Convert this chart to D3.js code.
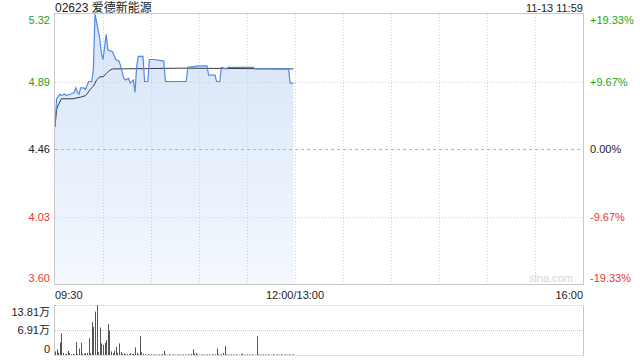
<!DOCTYPE html>
<html lang="zh">
<head>
<meta charset="utf-8">
<title>02623 爱德新能源</title>
<script src="https://cdn.jsdelivr.net/npm/d3@7/dist/d3.min.js"></script>
<style>
  body { margin: 0; background: #fff; }
  svg { font-family: "Liberation Sans", Arial, "Noto Sans CJK SC", sans-serif; }
</style>
</head>
<body>
<div id="vizContainer"></div>
<script>
// ---- data ----
var title = "02623 爱德新能源";
var stamp = "11-13 11:59";
var prevClose = 4.46;
var priceTicks = [5.32, 4.89, 4.46, 4.03, 3.60];
var pctTicks = ["+19.33%", "+9.67%", "0.00%", "-9.67%", "-19.33%"];
var timeLabels = ["09:30", "12:00/13:00", "16:00"];
var volTicks = [13.81, 6.91, 0];
var volTickLabels = ["13.81万", "6.91万", "0"];

// minutes since 09:30 (morning session) and price
var priceMin = [0,1,3,4,6,7,10,12,13,14,15,16,18,19,21,23,24,25,26,28,29,30,32,33,36,38,40,41,43,44,46,47,49,50,51,52,55,56,58,59,62,68,69,82,83,90,95,96,100,101,103,104,107,108,124,125,146,147,149];
var priceVal = [4.60,4.78,4.81,4.80,4.81,4.80,4.81,4.82,4.85,4.82,4.81,4.85,4.85,4.84,4.89,4.89,4.97,5.32,5.27,5.16,5.07,5.03,5.19,5.09,5.08,5.03,5.02,4.99,4.91,4.90,4.91,4.88,4.90,4.82,4.98,5.05,5.05,4.89,4.89,5.03,5.03,5.02,4.89,4.89,4.98,4.99,4.99,4.93,4.93,4.89,4.89,4.98,4.97,4.98,4.98,4.97,4.97,4.88,4.88];

var avgMin = [0,1,2,4,11,16,19,20,22,24,26,28,30,32,34,36,80,149];
var avgVal = [4.60,4.71,4.74,4.78,4.78,4.79,4.80,4.81,4.84,4.86,4.90,4.92,4.92,4.94,4.96,4.97,4.975,4.97];

// volume per minute, in 万 shares (minutes 0..149)
var volume = [
  1.0,1.6,0.6,3.4,6.0,0.6,0.2,0.3,1.1,0.5, 0.2,0.3,0.2,3.6,0.3,1.8,3.4,0.3,0.4,0.5,
  0.6,4.6,0.5,9.1,7.8,12.0,13.81,0.8,7.6,3.2, 2.8,3.4,4.1,8.6,6.7,1.0,0.5,1.2,2.3,0.6,
  3.2,0.8,0.3,0.5,0.2,0.3,0.2,0.5,0.3,0.3, 2.1,0.6,0.2,5.2,0.8,0.3,0.2,0.1,0.2,0.1,
  0.2,0.1,0.2,0.1,0.1,0.2,0.1,0.3,1.1,0.2, 0.1,0.2,0.1,0.1,0.2,0.1,0.1,0.2,0.1,0.1,
  0.2,0.1,0.1,0.2,0.1,0.3,1.6,0.4,0.6,0.2, 0.1,0.1,0.2,0.1,0.1,0.2,0.1,0.1,0.2,0.1,
  0.2,1.8,0.2,0.1,0.2,0.6,2.5,0.2,0.1,0.1, 0.2,0.1,0.1,0.2,0.1,0.1,0.2,0.4,0.1,0.1,
  0.2,0.1,0.1,0.2,0.1,0.1,5.2,0.2,0.1,0.1, 0.2,0.1,0.1,0.2,0.1,0.1,0.2,0.1,0.1,0.2,
  0.1,0.2,0.1,0.1,0.2,0.1,0.2,0.1,0.1,0.2
];

// ---- canvas ----
var width = 640, height = 360;
var mLeft = 55, mRight = 583, mTop = 14, mBottom = 284;
var volTop = 305, volBottom = 355;

var svg = d3.select("#vizContainer").append("svg")
  .attr("width", width)
  .attr("height", height);

var x = d3.scaleLinear().domain([0, 330]).range([mLeft, mRight]);
var y = d3.scaleLinear().domain([3.60, 5.32]).range([mBottom, mTop]);
var yVol = d3.scaleLinear().domain([0, 13.81]).range([volBottom, volTop]);

var green = "#18a718", red = "#f0352d", text = "#222";
function tickColor(v) {
  if (Math.abs(v - prevClose) < 0.001) return text;
  return v > prevClose ? green : red;
}

// gradient for the area
var grad = svg.append("defs").append("linearGradient")
  .attr("id", "areaGrad").attr("x1", 0).attr("y1", 0).attr("x2", 0).attr("y2", 1);
grad.append("stop").attr("offset", "0%").attr("stop-color", "#d6e4f8");
grad.append("stop").attr("offset", "100%").attr("stop-color", "#f4f8fe");

// area first, grid drawn over it
var pts = priceMin.map(function(m, i){ return [m, priceVal[i]]; });
svg.append("path").datum(pts)
  .attr("d", d3.area().x(function(d){ return x(d[0]); }).y0(mBottom).y1(function(d){ return y(d[1]); }))
  .attr("fill", "url(#areaGrad)");

// vertical grid (every 30 minutes)
var vgrid = d3.range(30, 330, 30);
svg.selectAll(".vgrid").data(vgrid).enter().append("line")
  .attr("x1", function(d){ return Math.round(x(d)) + 0.5; })
  .attr("x2", function(d){ return Math.round(x(d)) + 0.5; })
  .attr("y1", mTop).attr("y2", mBottom)
  .attr("stroke", "#cfcfcf").attr("stroke-dasharray", "1,2");

// horizontal grid
svg.selectAll(".hgrid").data(priceTicks.slice(1, 4)).enter().append("line")
  .attr("x1", mLeft).attr("x2", mRight)
  .attr("y1", function(d){ return Math.round(y(d)) + 0.5; })
  .attr("y2", function(d){ return Math.round(y(d)) + 0.5; })
  .attr("stroke", function(d){ return d === prevClose ? "#b5b5b5" : "#cfcfcf"; })
  .attr("stroke-dasharray", function(d){ return d === prevClose ? "3,3" : "1,2"; });

// watermark
svg.append("text").attr("x", mRight - 10).attr("y", mBottom - 2)
  .attr("text-anchor", "end").attr("font-size", 11).attr("fill", "#d4d4d4")
  .text("sina.com");

// average line and price line
var avgPts = avgMin.map(function(m, i){ return [m, avgVal[i]]; });
svg.append("path").datum(avgPts)
  .attr("d", d3.line().x(function(d){ return x(d[0]); }).y(function(d){ return y(d[1]); }))
  .attr("fill", "none").attr("stroke", "#3a3a3a").attr("stroke-width", 1);

svg.append("path").datum(pts)
  .attr("d", d3.line().x(function(d){ return x(d[0]); }).y(function(d){ return y(d[1]); }))
  .attr("fill", "none").attr("stroke", "#5289e6").attr("stroke-width", 1.2);

// border of main panel
svg.append("rect").attr("x", mLeft - 0.5).attr("y", mTop - 0.5)
  .attr("width", mRight - mLeft + 1).attr("height", mBottom - mTop + 1)
  .attr("fill", "none").attr("stroke", "#c8c8c8");

// left price labels
svg.selectAll(".pl").data(priceTicks).enter().append("text")
  .attr("x", mLeft - 5)
  .attr("y", function(d, i){ return y(d) + 4 + (i === 0 ? 6 : i === priceTicks.length - 1 ? -6 : 0); })
  .attr("text-anchor", "end").attr("font-size", 11)
  .attr("fill", tickColor)
  .text(function(d){ return d.toFixed(2); });

// right percent labels
svg.selectAll(".pr").data(priceTicks).enter().append("text")
  .attr("x", mRight + 7)
  .attr("y", function(d, i){ return y(d) + 4 + (i === 0 ? 6 : i === priceTicks.length - 1 ? -6 : 0); })
  .attr("font-size", 11)
  .attr("fill", tickColor)
  .text(function(d, i){ return pctTicks[i]; });

// title and timestamp
svg.append("text").attr("x", mLeft).attr("y", 12)
  .attr("font-size", 12).attr("fill", text).text(title);
svg.append("text").attr("x", mRight).attr("y", 12)
  .attr("text-anchor", "end").attr("font-size", 11).attr("fill", text).text(stamp);

// time labels
var timePos = [0, 150, 330];
var timeAnchor = ["start", "middle", "end"];
svg.selectAll(".tl").data(timeLabels).enter().append("text")
  .attr("x", function(d, i){ return x(timePos[i]); })
  .attr("y", mBottom + 15)
  .attr("text-anchor", function(d, i){ return timeAnchor[i]; })
  .attr("font-size", 11).attr("fill", text)
  .text(function(d){ return d; });

// ---- volume panel ----
svg.selectAll(".vg").data(volTicks.slice(0, 2)).enter().append("line")
  .attr("x1", mLeft).attr("x2", mRight)
  .attr("y1", function(d){ return Math.round(yVol(d)) + 0.5; })
  .attr("y2", function(d){ return Math.round(yVol(d)) + 0.5; })
  .attr("stroke", "#c8c8c8").attr("stroke-dasharray", "1,1");

svg.append("line").attr("x1", mLeft - 0.5).attr("x2", mLeft - 0.5)
  .attr("y1", volTop).attr("y2", volBottom + 1).attr("stroke", "#c8c8c8");
svg.append("line").attr("x1", mRight + 0.5).attr("x2", mRight + 0.5)
  .attr("y1", volTop).attr("y2", volBottom + 1).attr("stroke", "#c8c8c8");
svg.append("line").attr("x1", mLeft).attr("x2", mRight)
  .attr("y1", volBottom + 0.5).attr("y2", volBottom + 0.5).attr("stroke", "#e0e0e0");

svg.selectAll(".vbar").data(volume).enter().append("rect")
  .attr("x", function(d, i){ return Math.round(x(i)); })
  .attr("width", 1)
  .attr("y", function(d){ return yVol(d); })
  .attr("height", function(d){ return volBottom - yVol(d); })
  .attr("fill", "#555");

var volOffset = [7, 0, -6];
svg.selectAll(".vl").data(volTicks).enter().append("text")
  .attr("x", mLeft - 5)
  .attr("y", function(d, i){ return yVol(d) + 4 + volOffset[i]; })
  .attr("text-anchor", "end").attr("font-size", 11).attr("fill", text)
  .text(function(d, i){ return volTickLabels[i]; });
</script>
</body>
</html>
